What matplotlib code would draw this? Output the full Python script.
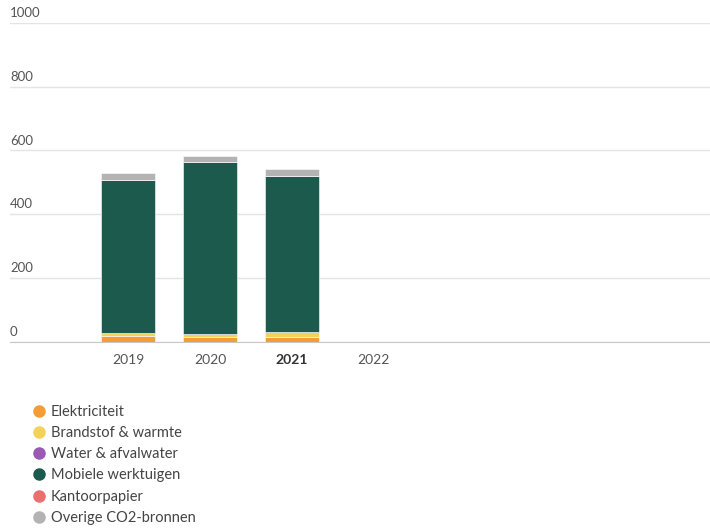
import numpy as np
import matplotlib.pyplot as plt
from matplotlib.lines import Line2D

plt.rcParams['font.family'] = ['Lato', 'DejaVu Sans']

years = ['2019', '2020', '2021', '2022']
series = ['Elektriciteit', 'Brandstof & warmte', 'Water & afvalwater',
          'Mobiele werktuigen', 'Kantoorpapier', 'Overige CO2-bronnen']
elektriciteit = [18, 16, 16, 0]
brandstof = [10, 10, 14, 0]
water = [0.5, 0.5, 0.5, 0]
mobiel = [480, 536, 488, 0]
papier = [0.5, 0.5, 0.5, 0]
overig = [22, 20, 22, 0]
colors = ['#f59d35', '#f3d25a', '#9b59b6', '#1c5a4e', '#ec6f6f', '#b3b3b3']

fig = plt.figure(figsize=(7.1, 5.31), dpi=100)
ax = fig.add_axes([0.014, 0.356, 0.986, 0.601])

x = np.arange(len(years))
bottom = np.zeros(len(years))
for vals, col in zip([elektriciteit, brandstof, water, mobiel, papier, overig], colors):
    ax.bar(x, vals, 0.66, bottom=bottom, color=col, edgecolor='white', linewidth=0.4, zorder=3)
    bottom += np.array(vals)

ax.set_xlim(-1.44, 7.1)
ax.set_ylim(0, 1000)
ticks = [0, 200, 400, 600, 800, 1000]
ax.set_yticks(ticks)
ax.set_yticklabels([])
ax.tick_params(axis='both', length=0)
ax.grid(axis='y', color='#e4e4e4', linewidth=1, zorder=0)
for t in ticks:
    ax.text(-1.44, t + 12, str(t), fontsize=9.5, color='#555555', va='bottom', ha='left')
for s in ['top', 'right', 'left']:
    ax.spines[s].set_visible(False)
ax.spines['bottom'].set_color('#c8c8c8')

ax.set_xticks(x)
ax.set_xticklabels(years, fontsize=10, color='#555555')
ax.tick_params(axis='x', pad=9)
ax.get_xticklabels()[2].set_fontweight('bold')
ax.get_xticklabels()[2].set_color('#333333')

handles = [Line2D([], [], marker='o', linestyle='', markersize=8, color=c) for c in colors]
fig.legend(handles, series, loc='upper left', bbox_to_anchor=(0.045, 0.238), frameon=False,
           fontsize=10.5, labelcolor='#444444', handletextpad=0.3, labelspacing=0.5,
           handlelength=1.0, borderaxespad=0, borderpad=0)

fig.savefig('out.png', dpi=100)
